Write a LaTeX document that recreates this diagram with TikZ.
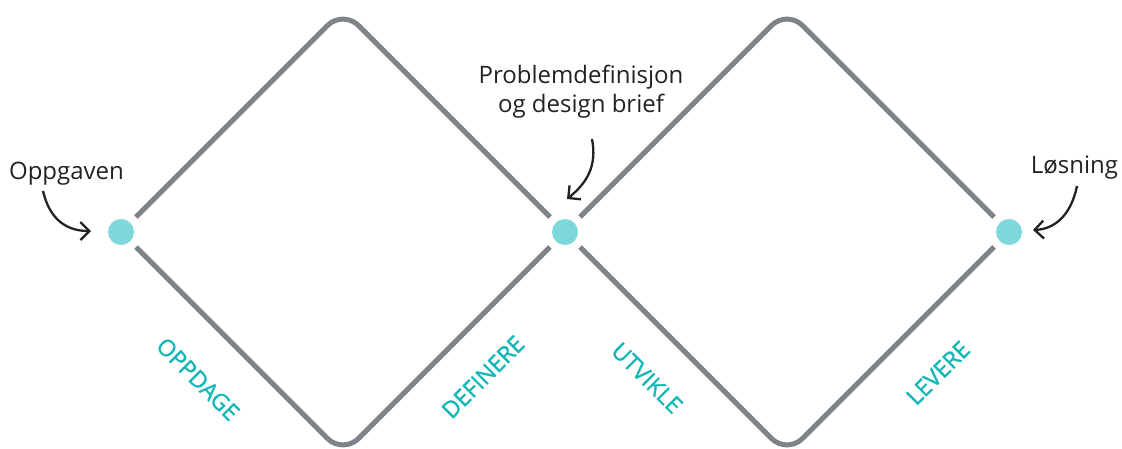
\documentclass[tikz,border=0pt]{standalone}
\usepackage{fontspec}
\setmainfont{Open Sans}
\newfontfamily\phasefont{Open Sans}[FakeBold=1.3]
\usetikzlibrary{arrows.meta,calc}
\definecolor{edgegray}{HTML}{7D8389}
\definecolor{dotcol}{HTML}{7ED8D9}
\definecolor{tealtxt}{HTML}{14B6B6}
\definecolor{inktxt}{HTML}{222222}
\begin{document}
\begin{tikzpicture}[x=1pt,y=-1pt,
  edge/.style={draw=edgegray,line width=5pt,rounded corners=22pt,line cap=butt},
  dotnode/.style={circle,fill=dotcol,minimum size=26pt,inner sep=0pt},
  phase/.style={text=tealtxt,font=\phasefont\fontsize{23}{26}\selectfont,inner sep=0pt},
  note/.style={text=inktxt,font=\fontsize{24}{29}\selectfont,inner sep=0pt,align=center},
  arr/.style={draw=inktxt,line width=2.3pt,-{Straight Barb[length=9pt,width=18pt,line width=2.3pt]}}]
\useasboundingbox (0,0) rectangle (1122,448);
% dots
\node[dotnode] (d1) at (121,232) {};
\node[dotnode] (d2) at (565,232) {};
\node[dotnode] (d3) at (1009,232) {};
% diamond edges
\draw[edge] ($(d1)+(15,-15)$) -- (343,10) -- ($(d2)+(-15,-15)$);
\draw[edge] ($(d1)+(15,15)$) -- (343,454) -- ($(d2)+(-15,15)$);
\draw[edge] ($(d2)+(15,-15)$) -- (787,10) -- ($(d3)+(-15,-15)$);
\draw[edge] ($(d2)+(15,15)$) -- (787,454) -- ($(d3)+(-15,15)$);
% notes
\node[note,anchor=base] (t1) at (66.5,179) {Oppgaven};
\node[note,anchor=base] (t2a) at (581,83) {Problemdefinisjon};
\node[note,anchor=base] (t2b) at (581,112) {og design brief};
\node[note,anchor=base] (t3) at (1074.5,173) {Løsning};
% arrows
\coordinate (a1s) at (43,191);
\coordinate (a1e) at (91,231);
\draw[arr] (a1s) .. controls (50,221) and (68,231) .. (a1e);
\coordinate (a2s) at (592,139);
\coordinate (a2e) at (567,199);
\draw[arr] (a2s) .. controls (597,165) and (588,182) .. (a2e);
\coordinate (a3s) at (1077,186);
\coordinate (a3e) at (1033,230);
\draw[arr] (a3s) .. controls (1071,215) and (1055,229) .. (a3e);
% phase labels
\node[phase,rotate=-45] (p1) at (198,379) {OPPDAGE};
\node[phase,rotate=45] (p2) at (483,377) {DEFINERE};
\node[phase,rotate=-45] (p3) at (647,378) {UTVIKLE};
\node[phase,rotate=45] (p4) at (938,373) {LEVERE};
\end{tikzpicture}
\end{document}
